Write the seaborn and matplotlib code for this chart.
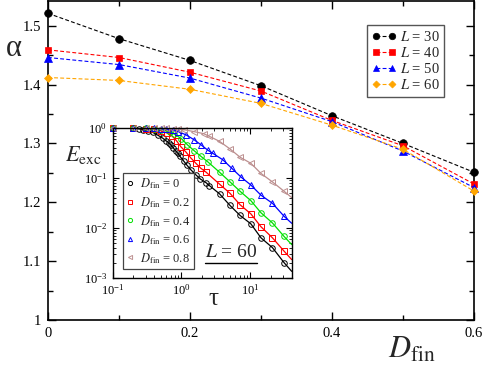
import numpy as np
import pandas as pd
import matplotlib
matplotlib.use('Agg')
import matplotlib.pyplot as plt
import seaborn as sns
from matplotlib.ticker import MultipleLocator, LogLocator, NullFormatter, FuncFormatter

# main panel: exponent alpha vs D_fin
d_fin = [0.0, 0.1, 0.2, 0.3, 0.4, 0.5, 0.6]
alpha_L30 = [1.521, 1.478, 1.441, 1.398, 1.347, 1.300, 1.251]
alpha_L40 = [1.459, 1.446, 1.421, 1.389, 1.339, 1.296, 1.231]
alpha_L50 = [1.446, 1.434, 1.411, 1.377, 1.337, 1.287, 1.225]
alpha_L60 = [1.412, 1.407, 1.392, 1.368, 1.331, 1.290, 1.219]

# inset: E_exc vs tau for L = 60
tau_d0 = [0.1, 0.2, 0.24, 0.28, 0.33, 0.38, 0.45, 0.53, 0.59, 0.66, 0.71, 0.76, 0.82, 0.89, 0.95,
          1.07, 1.2, 1.37, 1.62, 1.88, 2.28, 2.55, 3.57, 5.08, 7.1, 10.2, 14.3, 21, 31]
E_d0 = [1.0, 0.98, 0.96, 0.93, 0.88, 0.82, 0.72, 0.63, 0.56, 0.5, 0.45, 0.4, 0.35, 0.31, 0.27,
        0.22, 0.18, 0.145, 0.115, 0.095, 0.08, 0.07, 0.048, 0.028, 0.0177, 0.012, 0.0063, 0.004, 0.002]
tau_d2 = [0.1, 0.2, 0.3, 0.4, 0.5, 0.62, 0.74, 0.85, 0.98, 1.16, 1.37, 1.62, 1.92, 2.28,
          3.57, 5.08, 7.1, 10.2, 14.3, 21, 31]
E_d2 = [1.0, 0.99, 0.97, 0.94, 0.88, 0.79, 0.68, 0.55, 0.42, 0.33, 0.25, 0.196, 0.155, 0.13,
        0.075, 0.049, 0.029, 0.019, 0.0105, 0.0063, 0.0034]
tau_d4 = [0.1, 0.2, 0.3, 0.4, 0.5, 0.68, 0.78, 1.0, 1.22, 1.53, 1.92, 2.41, 3.57, 5.08, 7.1,
          10.2, 14.3, 21, 31]
E_d4 = [1.0, 0.99, 0.98, 0.96, 0.93, 0.83, 0.76, 0.61, 0.46, 0.35, 0.27, 0.21, 0.13, 0.083, 0.054,
        0.035, 0.02, 0.0125, 0.0067]
tau_d6 = [0.1, 0.2, 0.3, 0.4, 0.5, 0.6, 0.75, 0.89, 1.16, 1.53, 1.92, 2.41, 2.86, 4.0, 5.4, 7.45,
          10.2, 14.3, 21, 31]
E_d6 = [1.0, 1.0, 0.99, 0.98, 0.97, 0.95, 0.91, 0.85, 0.73, 0.58, 0.46, 0.36, 0.31, 0.23, 0.155, 0.102,
        0.072, 0.045, 0.031, 0.017]
tau_d8 = [0.1, 0.2, 0.3, 0.4, 0.5, 0.6, 0.75, 0.9, 1.1, 1.5, 2.1, 2.55, 3.57, 5.08, 7.1, 10.2, 14.3, 21, 31]
E_d8 = [1.0, 1.0, 1.0, 0.99, 0.99, 0.98, 0.97, 0.95, 0.92, 0.85, 0.77, 0.68, 0.54, 0.38, 0.26,
        0.196, 0.123, 0.083, 0.054]

sns.set_style('ticks')
plt.rcParams.update({
    'font.family': ['Liberation Serif', 'DejaVu Serif'],
    'mathtext.fontset': 'stix',
    'xtick.direction': 'in', 'ytick.direction': 'in',
    'xtick.top': True, 'ytick.right': True,
    'axes.linewidth': 1.2,
    'axes.edgecolor': 'black',
    'xtick.color': 'black', 'ytick.color': 'black',
})

fig = plt.figure(figsize=(4.84, 3.67), dpi=100)
ax = fig.add_axes([48 / 484, 1 - 320 / 367, 426 / 484, 319 / 367])

main_series = [
    ('$L$ = 30', alpha_L30, 'black', 'o', 5.5),
    ('$L$ = 40', alpha_L40, 'red', 's', 5),
    ('$L$ = 50', alpha_L50, 'blue', '^', 5.5),
    ('$L$ = 60', alpha_L60, 'orange', 'D', 4.2),
]
for label, vals, color, marker, ms in main_series:
    sns.lineplot(x=d_fin, y=vals, ax=ax, color=color, marker=marker, markersize=ms,
                 markeredgecolor=color, markeredgewidth=0.5, linestyle=(0, (3.5, 2)),
                 lw=0.8, label=label, clip_on=False, zorder=3)

ax.set_xlim(0, 0.6)
ax.set_ylim(1.0, 1.542)
ax.xaxis.set_major_locator(MultipleLocator(0.2))
ax.xaxis.set_minor_locator(MultipleLocator(0.1))
ax.yaxis.set_major_locator(MultipleLocator(0.1))
ax.yaxis.set_minor_locator(MultipleLocator(0.05))
fmt = FuncFormatter(lambda v, p: '%g' % round(v, 3))
ax.xaxis.set_major_formatter(fmt)
ax.yaxis.set_major_formatter(fmt)
ax.tick_params(which='major', length=6, width=1, labelsize=10.5, pad=5)
ax.tick_params(which='minor', length=3.5, width=1)
ax.set_xlabel('')
ax.set_ylabel('')

leg = ax.legend(loc='upper left', bbox_to_anchor=(0.749, 0.924), numpoints=2, fontsize=10.5,
                handlelength=1.7, handletextpad=0.25, labelspacing=0.15, borderpad=0.3,
                fancybox=False, framealpha=1, edgecolor='#555555', borderaxespad=0,
                markerscale=0.85)
leg.get_frame().set_linewidth(1.0)

fig.text(0.028, 0.868, 'α', fontsize=22, ha='center', va='center')
fig.text(0.85, 0.045, r'$D_{\rm fin}$', fontsize=22, ha='center', va='center')

# inset
axi = fig.add_axes([112.7 / 484, 1 - 277.7 / 367, 179 / 484, 149.7 / 367])
tau_max = 40
inset_series = [
    (r'$D_{\rm fin}$ = 0', tau_d0, E_d0, 'black', 'o'),
    (r'$D_{\rm fin}$ = 0.2', tau_d2, E_d2, 'red', 's'),
    (r'$D_{\rm fin}$ = 0.4', tau_d4, E_d4, '#00e000', 'o'),
    (r'$D_{\rm fin}$ = 0.6', tau_d6, E_d6, 'blue', '^'),
    (r'$D_{\rm fin}$ = 0.8', tau_d8, E_d8, '#bc8f8f', '<'),
]
handles = []
for label, tau, E, color, marker in inset_series:
    lt = np.log10(tau[-4:])
    le = np.log10(E[-4:])
    slope, icpt = np.polyfit(lt, le, 1)
    E_end = E[-1] * (tau_max / tau[-1]) ** slope
    line_df = pd.DataFrame({'tau': list(tau) + [tau_max], 'E': list(E) + [E_end]})
    sns.lineplot(data=line_df, x='tau', y='E', ax=axi, color=color, lw=0.9, sort=True)
    sns.lineplot(x=tau, y=E, ax=axi, color=color, marker=marker, markersize=4,
                 markerfacecolor='none', markeredgecolor=color, markeredgewidth=0.7,
                 linestyle='none', clip_on=False)
    h = axi.lines[-1]
    handles.append(h)

axi.set_xscale('log')
axi.set_yscale('log')
axi.set_xlim(0.1, tau_max)
axi.set_ylim(1e-3, 1.0)
axi.xaxis.set_major_locator(LogLocator(base=10, numticks=10))
axi.xaxis.set_minor_locator(LogLocator(base=10, subs=np.arange(2, 10), numticks=20))
axi.yaxis.set_major_locator(LogLocator(base=10, numticks=10))
axi.yaxis.set_minor_locator(LogLocator(base=10, subs=np.arange(2, 10), numticks=20))
axi.xaxis.set_minor_formatter(NullFormatter())
axi.yaxis.set_minor_formatter(NullFormatter())
axi.tick_params(which='major', length=4, width=0.8, labelsize=9, pad=4)
axi.tick_params(which='minor', length=2, width=0.6)
for sp in axi.spines.values():
    sp.set_linewidth(1.0)
axi.set_xlabel('')
axi.set_ylabel('')

leg2 = axi.legend(handles, [s[0] for s in inset_series], loc='upper left',
                  bbox_to_anchor=(0.056, 0.70), fontsize=9, handlelength=0.6,
                  handletextpad=0.45, labelspacing=0.3, borderpad=0.3, fancybox=False,
                  framealpha=1, edgecolor='#444444', borderaxespad=0, markerscale=0.75)
leg2.get_frame().set_linewidth(0.9)

fig.text(0.173, 0.578, r'$E_{\rm exc}$', fontsize=16, ha='center', va='center')
fig.text(0.44, 0.185, 'τ', fontsize=18, ha='center', va='center')
axi.text(0.66, 0.17, '$L$ = 60', transform=axi.transAxes, fontsize=14, ha='center', va='center')
axi.plot([0.515, 0.805], [0.10, 0.10], transform=axi.transAxes, color='black', lw=1.0)

fig.savefig('out.png', dpi=100)
